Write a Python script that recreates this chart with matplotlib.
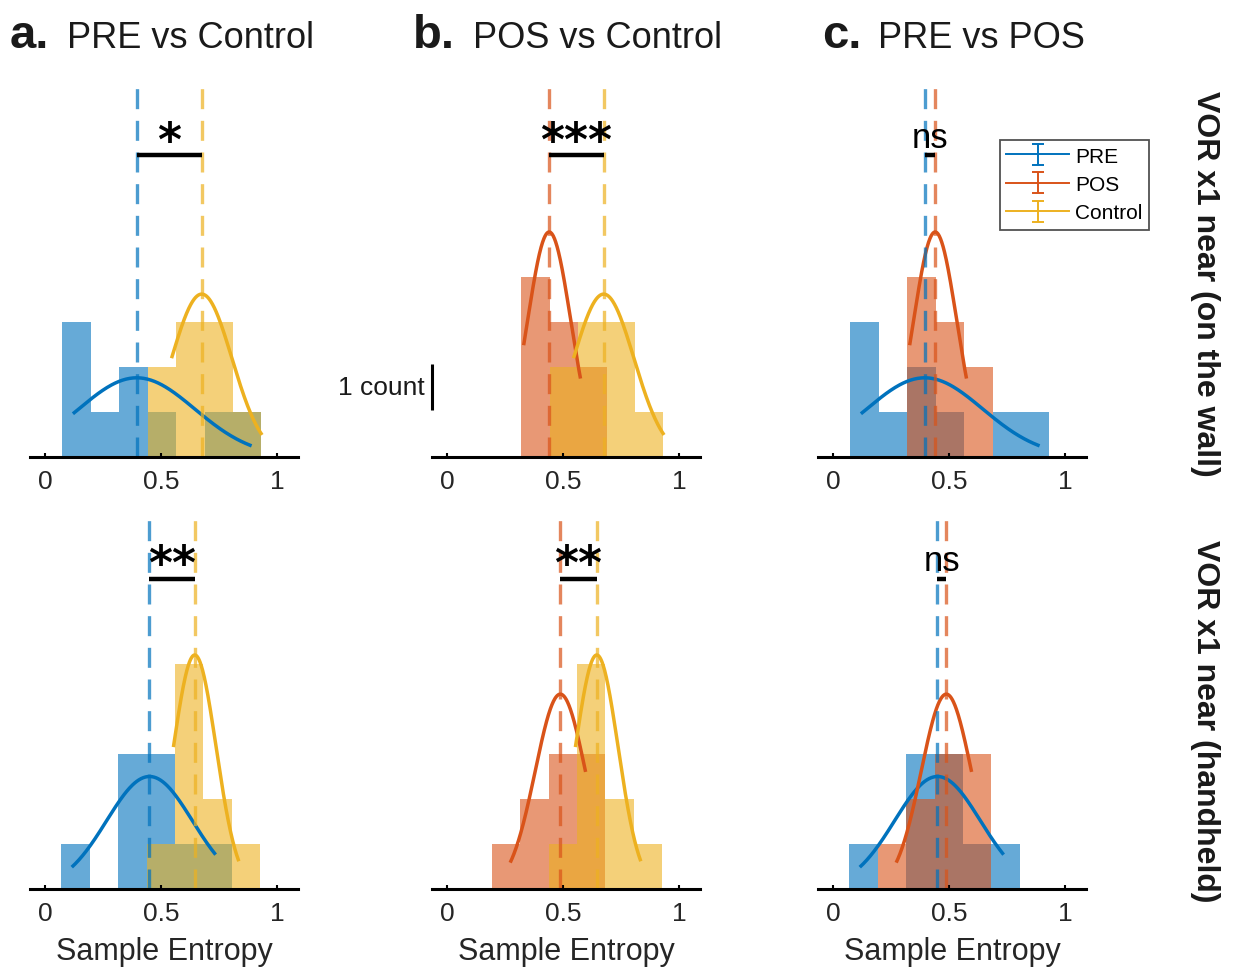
import numpy as np
import matplotlib
matplotlib.use('Agg')
import matplotlib.pyplot as plt

plt.rcParams['font.family'] = ['Liberation Sans', 'DejaVu Sans']

# MATLAB default colours
c_pre = '#0072BD'
c_pos = '#D95319'
c_ctl = '#EDB120'

# ---- data (Sample Entropy, counts) ----
# row 1: VOR x1 near (on the wall)
pre_top_edges = [0.075, 0.1975, 0.32, 0.4425, 0.565, 0.6875, 0.81, 0.9325]
pre_top_counts = [3, 1, 2, 1, 0, 1, 1]
pos_top_edges = [0.32, 0.4425, 0.565, 0.6875]
pos_top_counts = [4, 3, 2]
ctl_top_edges = [0.4425, 0.565, 0.6875, 0.81, 0.9325]
ctl_top_counts = [2, 3, 3, 1]

# row 2: VOR x1 near (handheld)
pre_bot_edges = [0.07, 0.1925, 0.315, 0.4375, 0.56, 0.6825, 0.805]
pre_bot_counts = [1, 0, 3, 3, 1, 1]
pos_bot_edges = [0.1925, 0.315, 0.4375, 0.56, 0.6825]
pos_bot_counts = [1, 2, 3, 3]
ctl_bot_edges = [0.4375, 0.56, 0.6825, 0.805, 0.9275]
ctl_bot_counts = [1, 5, 2, 1]

# group means (dashed lines)
pre_top_mean, pos_top_mean, ctl_top_mean = 0.395, 0.44, 0.675
pre_bot_mean, pos_bot_mean, ctl_bot_mean = 0.45, 0.488, 0.645

# normal fits: (sigma, peak height in counts, x from, x to)
pre_top_fit = (0.25, 1.76, 0.12, 0.89)
pos_top_fit = (0.093, 5.0, 0.33, 0.575)
ctl_top_fit = (0.13, 3.62, 0.545, 0.935)
pre_bot_fit = (0.185, 2.5, 0.115, 0.735)
pos_bot_fit = (0.108, 4.33, 0.272, 0.597)
ctl_bot_fit = (0.092, 5.2, 0.553, 0.835)

titles = ['PRE vs Control', 'POS vs Control', 'PRE vs POS']
letters = ['a.', 'b.', 'c.']
row_labels = ['VOR x1 near (on the wall)', 'VOR x1 near (handheld)']
sig_top = ['*', '***', 'ns']
sig_bot = ['**', '**', 'ns']

groups = {
    'PRE': {'color': c_pre,
            'top': (pre_top_edges, pre_top_counts, pre_top_mean, pre_top_fit),
            'bot': (pre_bot_edges, pre_bot_counts, pre_bot_mean, pre_bot_fit)},
    'POS': {'color': c_pos,
            'top': (pos_top_edges, pos_top_counts, pos_top_mean, pos_top_fit),
            'bot': (pos_bot_edges, pos_bot_counts, pos_bot_mean, pos_bot_fit)},
    'Control': {'color': c_ctl,
                'top': (ctl_top_edges, ctl_top_counts, ctl_top_mean, ctl_top_fit),
                'bot': (ctl_bot_edges, ctl_bot_counts, ctl_bot_mean, ctl_bot_fit)},
}
pairs = [('PRE', 'Control'), ('POS', 'Control'), ('PRE', 'POS')]

# ---- layout (pixels) ----
W, H = 1234, 971
fig = plt.figure(figsize=(W / 100, H / 100), dpi=100)
col_left = [30, 432, 818]
ax_w = 268
rows = [(85, 372, 'top', 6.7), (520, 369, 'bot', 6.9)]
px_per_count = 45.0


def add_ax(left, top, w, h):
    return fig.add_axes([left / W, 1 - (top + h) / H, w / W, h / H])


def draw_group(ax, edges, counts, fit, mu, color):
    edges = np.asarray(edges)
    ax.bar(edges[:-1], counts, width=np.diff(edges), align='edge',
           color=color, alpha=0.6, linewidth=0)
    sigma, peak, lo, hi = fit
    xs = np.linspace(lo, hi, 200)
    ax.plot(xs, peak * np.exp(-0.5 * ((xs - mu) / sigma) ** 2),
            color=color, lw=2.5, solid_capstyle='butt')


axes = {}
for r, (top, h, key, bar_y) in enumerate(rows):
    for c, (g1, g2) in enumerate(pairs):
        ax = add_ax(col_left[c], top, ax_w, h)
        axes[(r, c)] = ax
        for g in (g1, g2):
            edges, counts, mu, fit = groups[g][key]
            draw_group(ax, edges, counts, fit, mu, groups[g]['color'])
        for g in (g1, g2):
            mu = groups[g][key][2]
            ax.axvline(mu, color=groups[g]['color'], lw=2.4, alpha=0.7,
                       dashes=(6, 3.5))
        m1 = groups[g1][key][2]
        m2 = groups[g2][key][2]
        ax.plot([m1, m2], [bar_y, bar_y], color='black', lw=3.2,
                solid_capstyle='butt')
        lab = (sig_top if key == 'top' else sig_bot)[c]
        if lab == 'ns':
            ax.text((m1 + m2) / 2, bar_y + 0.17, lab, ha='center',
                    va='baseline', fontsize=25, color='black')
        else:
            ax.text((m1 + m2) / 2, bar_y + 0.0, lab, ha='center',
                    va='baseline', fontsize=33, color='black',
                    family='DejaVu Sans', fontweight='bold')

        ax.set_xlim(-0.065, 1.09)
        ax.set_ylim(0, h / px_per_count)
        for s in ('left', 'right', 'top'):
            ax.spines[s].set_visible(False)
        ax.spines['bottom'].set_linewidth(2.2)
        ax.spines['bottom'].set_color('black')
        ax.set_yticks([])
        ax.set_xticks([0, 0.5, 1])
        ax.set_xticklabels(['0', '0.5', '1'])
        ax.tick_params(axis='x', direction='in', length=3, width=1.5,
                       labelsize=19, labelcolor='#262626', pad=9)
        ax.patch.set_alpha(0)
        if r == 1:
            ax.set_xlabel('Sample Entropy', fontsize=22, color='#262626',
                          labelpad=8)

# scale bar in panel b (top)
axb = axes[(0, 1)]
axb.plot([-0.065, -0.065], [1.05, 2.07], color='black', lw=2.2,
         clip_on=False, solid_capstyle='butt')
axb.annotate('1 count', xy=(-0.065, 1.53), xytext=(-5, 0),
             textcoords='offset points', ha='right', va='center',
             fontsize=19, color='#1a1a1a', annotation_clip=False)

# legend in panel c (top)
axc = axes[(0, 2)]
handles = []
for g in ('PRE', 'POS', 'Control'):
    hnd = axc.errorbar([np.nan], [np.nan], yerr=[1], color=groups[g]['color'],
                       lw=1.4, capsize=4, capthick=1.4)
    handles.append(hnd)
leg = axc.legend(handles, ['PRE', 'POS', 'Control'], loc='upper left',
                 bbox_to_anchor=(1000 / W, 1 - 140 / H),
                 bbox_transform=fig.transFigure, fontsize=15,
                 frameon=True, fancybox=False, handlelength=3.0,
                 handleheight=1.0, handletextpad=0.3, borderpad=0.3,
                 labelspacing=0.38, borderaxespad=0)
leg.get_frame().set_edgecolor('#262626')
leg.get_frame().set_linewidth(1.3)

# panel titles
title_x = [(10, 67), (413, 473), (822, 878)]
for (lx, tx), let, ttl in zip(title_x, letters, titles):
    fig.text(lx / W, 1 - 48 / H, let, fontsize=34, fontweight='bold',
             color='#1a1a1a', va='baseline', ha='left')
    fig.text(tx / W, 1 - 48 / H, ttl, fontsize=26, color='#1a1a1a',
             va='baseline', ha='left')

# row labels on the right
fig.text(1205 / W, 1 - 284 / H, row_labels[0], rotation=-90, fontsize=23,
         fontweight='bold', color='#1a1a1a', ha='center', va='center')
fig.text(1205 / W, 1 - 721 / H, row_labels[1], rotation=-90, fontsize=23,
         fontweight='bold', color='#1a1a1a', ha='center', va='center')

fig.savefig('out.png', dpi=100)
